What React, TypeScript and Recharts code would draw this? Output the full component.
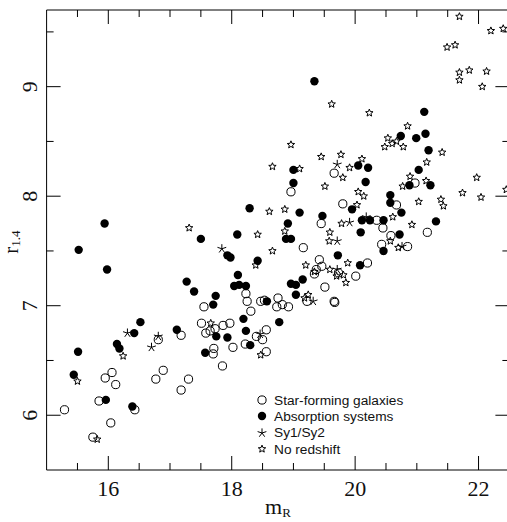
import React from 'react';
import { ScatterChart, Scatter, XAxis, YAxis, ReferenceLine } from 'recharts';

// x ticks (m_R) and y ticks (r_1.4); labelled ticks get the long tick mark
const xTicks = [15.5, 16, 16.5, 17, 17.5, 18, 18.5, 19, 19.5, 20, 20.5, 21, 21.5, 22];
const xLabels = [16, 18, 20, 22];
const yTicks = [6, 6.5, 7, 7.5, 8, 8.5, 9, 9.5];
const yLabels = [6, 7, 8, 9];
const xDomain = [15, 22.5];
const yDomain = [5.5, 9.7];

// [m_R, r_1.4]
const starForming: [number, number][] = [
  [15.29, 6.05], [16.06, 6.39], [15.95, 6.34], [16.12, 6.28], [15.85, 6.13], [16.04, 5.93],
  [15.75, 5.8], [16.43, 6.05], [16.77, 6.33], [16.89, 6.41], [16.81, 6.69], [17.18, 6.73],
  [17.18, 6.23], [17.3, 6.33], [17.55, 6.99], [17.51, 6.84], [17.58, 6.75], [17.65, 6.77],
  [17.73, 6.79], [17.71, 6.61], [17.7, 6.56], [17.86, 6.82], [17.97, 6.84], [18.02, 6.62],
  [17.85, 6.45], [18.23, 7.11], [18.25, 7.04], [18.31, 6.95], [18.22, 6.65], [18.47, 7.04],
  [18.53, 7.05], [18.75, 7.07], [18.82, 7.01], [18.73, 6.99], [18.92, 6.99], [18.56, 6.78],
  [18.4, 6.72], [18.5, 6.69], [18.56, 6.58], [18.96, 8.04], [19.66, 8.21], [19.8, 7.93],
  [19.45, 7.75], [20.35, 7.78], [20.45, 7.71], [20.67, 7.92], [20.97, 8.12], [21.17, 7.67],
  [19.16, 7.53], [20.58, 7.64], [20.43, 7.56], [20.85, 7.54], [19.42, 7.42], [19.46, 7.36],
  [19.37, 7.33], [19.34, 7.29], [19.73, 7.3], [20.2, 7.39], [20.01, 7.27], [19.51, 7.17],
  [19.22, 7.04], [19.66, 7.04], [19.67, 7.03],
];

const absorption: [number, number][] = [
  [15.51, 6.58], [15.44, 6.37], [15.96, 6.14], [16.39, 6.08], [16.14, 6.65], [16.18, 6.61],
  [16.42, 6.75], [16.52, 6.85], [15.98, 7.33], [15.94, 7.75], [15.52, 7.51], [17.11, 6.78],
  [17.27, 7.22], [17.39, 7.13], [17.7, 7.01], [17.74, 7.09], [17.75, 6.72], [17.57, 6.57],
  [17.93, 6.71], [18.04, 7.18], [18.1, 7.28], [18.12, 7.19], [18.23, 7.18], [18.19, 6.88],
  [18.23, 6.77], [18.3, 6.64], [17.5, 7.61], [18.09, 7.65], [17.93, 7.46], [17.98, 7.44],
  [18.42, 7.41], [18.88, 7.61], [18.96, 7.61], [18.57, 7.04], [18.96, 7.2], [19.04, 7.19],
  [19.15, 7.24], [19.04, 7.1], [18.77, 6.85], [19.0, 8.24], [19.0, 8.12], [18.29, 7.89],
  [19.1, 7.85], [18.91, 7.75], [19.34, 9.05], [20.74, 8.55], [20.99, 8.53], [21.12, 8.77],
  [21.14, 8.57], [21.19, 8.42], [20.05, 8.28], [20.21, 8.26], [20.17, 8.13], [21.03, 8.24],
  [20.57, 8.01], [20.57, 7.94], [20.75, 7.85], [19.95, 7.88], [19.47, 7.82], [20.11, 7.78],
  [20.24, 7.78], [20.46, 7.78], [20.09, 7.67], [20.88, 8.1], [21.22, 8.1], [21.31, 7.77],
  [20.72, 7.65], [20.46, 7.5], [19.72, 7.46], [20.08, 7.37],
];

const seyfert: [number, number][] = [
  [16.31, 6.75], [16.7, 6.62], [16.81, 6.72], [17.84, 7.52], [19.71, 8.29], [19.91, 7.76],
  [20.18, 7.81], [19.71, 7.59], [19.71, 7.33], [19.32, 7.04], [18.46, 6.74], [20.76, 7.54],
];

const noRedshift: [number, number][] = [
  [15.5, 6.31], [15.82, 5.78], [16.24, 6.54], [17.66, 6.84], [18.42, 7.65], [18.39, 7.37],
  [18.66, 7.5], [18.47, 6.55], [18.96, 8.47], [18.66, 8.27], [19.1, 8.25], [18.61, 7.86],
  [18.86, 7.88], [17.31, 7.71], [18.86, 7.68], [19.62, 8.84], [20.23, 8.76], [20.85, 8.64],
  [20.53, 8.53], [20.48, 8.45], [20.6, 8.48], [20.67, 8.5], [20.78, 8.45], [19.45, 8.36],
  [19.77, 8.38], [20.11, 8.34], [19.91, 8.26], [19.8, 8.17], [19.51, 8.09], [20.05, 8.04],
  [20.14, 8.0], [20.03, 7.92], [19.78, 7.75], [20.61, 7.81], [20.92, 7.74], [19.59, 7.67],
  [19.58, 7.59], [21.41, 8.4], [21.16, 8.31], [20.89, 8.18], [21.15, 8.14], [20.77, 8.09],
  [21.03, 7.95], [21.39, 7.97], [21.43, 7.91], [21.74, 8.03], [22.04, 7.99], [21.97, 8.17],
  [22.45, 8.06], [20.57, 7.59], [20.7, 7.53], [19.2, 7.37], [19.34, 7.31], [19.59, 7.33],
  [19.7, 7.27], [19.81, 7.28], [19.85, 7.21], [19.88, 7.39], [19.18, 7.07], [19.24, 7.1],
  [21.69, 9.64], [22.2, 9.51], [22.4, 9.53], [21.49, 9.36], [21.62, 9.38], [21.69, 9.13],
  [21.69, 9.06], [21.85, 9.15], [22.13, 9.14], [22.06, 9.0],
];

const legendNames = ['Star-forming galaxies', 'Absorption systems', 'Sy1/Sy2', 'No redshift'];

const serif = '"Liberation Serif", "Times New Roman", serif';
const sans = '"Liberation Sans", Arial, Helvetica, sans-serif';

const PLOT_W = 462.8;
const PLOT_H = 460;

const toPoints = (arr: [number, number][]) => arr.map(([x, y]) => ({ x, y }));

const OpenCircle = ({ cx, cy }: any) => (
  <circle cx={cx} cy={cy} r={4.1} fill="none" stroke="#000" strokeWidth={1} />
);
const FilledCircle = ({ cx, cy }: any) => <circle cx={cx} cy={cy} r={4.2} fill="#000" />;
const Asterisk = ({ cx, cy }: any) => {
  const arms = [0, 1, 2, 3, 4].map((i) => {
    const a = (-90 + i * 72) * (Math.PI / 180);
    return `M${cx},${cy}L${cx + 4.6 * Math.cos(a)},${cy + 4.6 * Math.sin(a)}`;
  });
  return <path d={arms.join('')} stroke="#000" strokeWidth={1} fill="none" />;
};
const StarOutline = ({ cx, cy }: any) => {
  const pts: string[] = [];
  for (let i = 0; i < 10; i++) {
    const r = i % 2 === 0 ? 3.9 : 1.7;
    const a = (-90 + i * 36) * (Math.PI / 180);
    pts.push(`${cx + r * Math.cos(a)},${cy + r * Math.sin(a)}`);
  }
  return <polygon points={pts.join(' ')} fill="none" stroke="#000" strokeWidth={1} />;
};

const shapes = [OpenCircle, FilledCircle, Asterisk, StarOutline];

// bottom tick plus its mirror on the top edge of the frame
const BottomTick = ({ x, y, payload }: any) => {
  const len = xLabels.includes(payload.value) ? 14 : 7;
  const top = y - PLOT_H;
  return (
    <g>
      <line x1={x} y1={y} x2={x} y2={y - len} stroke="#000" />
      <line x1={x} y1={top} x2={x} y2={top + len} stroke="#000" />
      {len > 7 && (
        <text x={x} y={y + 26} textAnchor="middle" fontFamily={serif} fontSize={22} fill="#111">
          {payload.value}
        </text>
      )}
    </g>
  );
};

// left tick plus its mirror on the right edge of the frame
const LeftTick = ({ x, y, payload }: any) => {
  const major = yLabels.includes(payload.value);
  const len = major ? 14 : 7;
  const right = x + PLOT_W;
  return (
    <g>
      <line x1={x} y1={y} x2={x + len} y2={y} stroke="#000" />
      <line x1={right} y1={y} x2={right - len} y2={y} stroke="#000" />
      {major && (
        <text
          x={x - 10}
          y={y}
          transform={`rotate(-90, ${x - 10}, ${y})`}
          textAnchor="middle"
          fontFamily={serif}
          fontSize={22}
          fill="#111"
        >
          {payload.value}
        </text>
      )}
    </g>
  );
};

export default function App() {
  const series = [starForming, absorption, seyfert, noRedshift];
  return (
    <div
      style={{
        position: 'fixed',
        left: 0,
        top: 0,
        width: 507,
        height: 522,
        overflow: 'hidden',
        background: '#fff',
      }}
    >
      <ScatterChart width={520} height={522} margin={{ top: 10, right: 10.6, bottom: 12, left: 6.6 }}>
        <XAxis
          type="number"
          dataKey="x"
          domain={xDomain}
          ticks={xTicks}
          interval={0}
          allowDataOverflow
          height={40}
          tickSize={0}
          tickMargin={0}
          tickLine={false}
          tick={<BottomTick />}
          axisLine={{ stroke: '#000' }}
        />
        <YAxis
          type="number"
          dataKey="y"
          domain={yDomain}
          ticks={yTicks}
          interval={0}
          allowDataOverflow
          width={40}
          tickSize={0}
          tickMargin={0}
          tickLine={false}
          tick={<LeftTick />}
          axisLine={{ stroke: '#000' }}
        />
        <ReferenceLine y={yDomain[1]} stroke="#000" strokeWidth={1} ifOverflow="visible" />
        {series.map((pts, i) => (
          <Scatter
            key={legendNames[i]}
            data={toPoints(pts)}
            shape={shapes[i]}
            isAnimationActive={false}
          />
        ))}
      </ScatterChart>

      {/* axis titles */}
      <svg
        width={507}
        height={522}
        style={{ position: 'absolute', left: 0, top: 0, pointerEvents: 'none' }}
      >
        <text x={278} y={514} textAnchor="middle" fontFamily={serif} fontSize={22} fill="#111">
          m
          <tspan fontSize={13} dy={3}>R</tspan>
        </text>
        <text
          x={18}
          y={242}
          transform="rotate(-90, 18, 242)"
          textAnchor="middle"
          fontFamily={serif}
          fontSize={21}
          fill="#111"
        >
          r
          <tspan fontSize={13} dy={2}>1.4</tspan>
        </text>
      </svg>

      {/* legend */}
      <div
        style={{
          position: 'absolute',
          left: 255,
          top: 392,
          fontFamily: sans,
          fontSize: 13.7,
          color: '#111',
        }}
      >
        {legendNames.map((name, i) => {
          const Shape = shapes[i];
          return (
            <div key={name} style={{ display: 'flex', alignItems: 'center', height: 16.3 }}>
              <svg width={14} height={12} style={{ marginRight: 5 }}>
                <Shape cx={7} cy={6} />
              </svg>
              <span>{name}</span>
            </div>
          );
        })}
      </div>
    </div>
  );
}
